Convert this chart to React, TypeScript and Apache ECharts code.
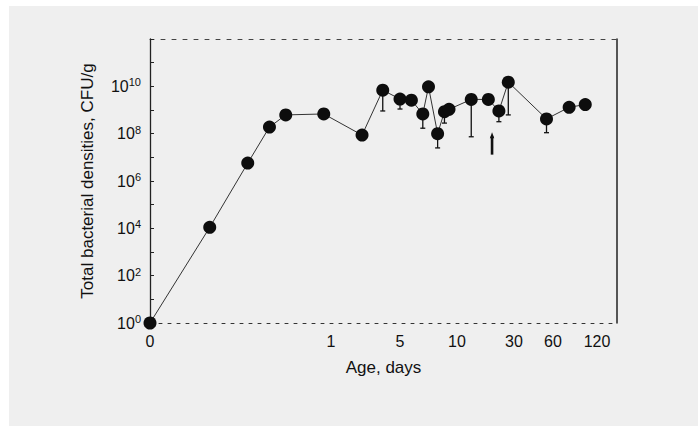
import React, { useEffect, useRef } from 'react';
import * as echarts from 'echarts';

// Broken age axis of the original figure: anchor ages and their axis units
const ageTicks = [0, 1, 5, 10, 30, 60, 120];
const ageTickUnits = [0, 181, 250, 307, 364, 403, 447];
const ageAxisMax = 467;

// Observations
const ageDays = [0, 0.33, 0.54, 0.66, 0.75, 0.96, 2.8, 4.0, 5, 6, 7, 7.5, 8.3, 8.9, 9.3, 15, 21, 24.7, 28, 55, 82, 104];
const density = [1, 1.1e4, 5.7e6, 1.9e8, 6.2e8, 6.8e8, 8.7e7, 6.9e9, 2.9e9, 2.6e9, 6.8e8, 9.5e9, 1.0e8, 8.5e8, 1.07e9, 2.8e9, 2.8e9, 9.1e8, 1.5e10, 4.2e8, 1.3e9, 1.7e9];

// Lower error bars
const errAge = [4.0, 5, 7, 8.3, 8.9, 15, 24.7, 28, 55];
const errLow = [9.1e8, 1.1e9, 1.7e8, 2.5e7, 2.8e8, 7.4e7, 3.2e8, 6.2e8, 1.1e8];

// Arrow marker
const arrowAge = [22.3];
const arrowFrom = [1.3e7];
const arrowTo = [1.15e8];

const yLabelExponents = [0, 2, 4, 6, 8, 10];

function ageToUnit(age: number): number {
  for (let i = 0; i < ageTicks.length - 1; i++) {
    if (age <= ageTicks[i + 1]) {
      const t = (age - ageTicks[i]) / (ageTicks[i + 1] - ageTicks[i]);
      return ageTickUnits[i] + t * (ageTickUnits[i + 1] - ageTickUnits[i]);
    }
  }
  const n = ageTicks.length - 1;
  const slope = (ageTickUnits[n] - ageTickUnits[n - 1]) / (ageTicks[n] - ageTicks[n - 1]);
  return ageTickUnits[n] + (age - ageTicks[n]) * slope;
}

const FONT = 'Liberation Sans, Arial, sans-serif';

export default function App() {
  const ref = useRef<HTMLDivElement>(null);
  useEffect(() => {
    if (!ref.current) return;
    const chart = echarts.init(ref.current, null, { renderer: 'svg' });

    const lineData = ageDays.map((a, i) => [ageToUnit(a), density[i]]);
    const errData = errAge.map((a, i) => [ageToUnit(a), errLow[i], density[ageDays.indexOf(a)]]);
    const arrowData = arrowAge.map((a, i) => [ageToUnit(a), arrowFrom[i], arrowTo[i]]);

    const option: any = {
      animation: false,
      backgroundColor: '#ffffff',
      graphic: [
        { type: 'rect', z: -10, shape: { x: 9, y: 6, width: 700, height: 430 }, style: { fill: '#efefef' }, silent: true },
      ],
      grid: { left: 150, top: 39, right: 81, bottom: 103 },
      xAxis: [
        {
          type: 'value',
          min: 0,
          max: ageAxisMax,
          position: 'bottom',
          name: 'Age, days',
          nameLocation: 'middle',
          nameGap: 36,
          nameTextStyle: { fontFamily: FONT, fontSize: 17, color: '#111' },
          axisLine: { show: true, onZero: false, lineStyle: { color: '#333', width: 1, type: [3, 6] } },
          axisTick: { show: false },
          splitLine: { show: false },
          axisLabel: {
            customValues: ageTickUnits,
            formatter: (v: number) => {
              const idx = ageTickUnits.findIndex((u) => Math.abs(u - v) < 0.5);
              return idx >= 0 ? String(ageTicks[idx]) : '';
            },
            fontFamily: FONT,
            fontSize: 16,
            color: '#111',
            margin: 10,
          },
        },
        {
          type: 'value',
          min: 0,
          max: ageAxisMax,
          position: 'top',
          axisLine: { show: true, onZero: false, lineStyle: { color: '#444', width: 1, type: [4, 7] } },
          axisTick: { show: false },
          axisLabel: { show: false },
          splitLine: { show: false },
        },
      ],
      yAxis: [
        {
          type: 'log',
          logBase: 10,
          min: 1,
          max: 1e12,
          interval: 1,
          position: 'left',
          name: 'Total bacterial densities, CFU/g',
          nameLocation: 'middle',
          nameGap: 54,
          nameRotate: 90,
          nameTextStyle: { fontFamily: FONT, fontSize: 17, color: '#111' },
          axisLine: { show: true, onZero: false, lineStyle: { color: '#222', width: 1.3 } },
          axisTick: { show: true, inside: true, length: 4, lineStyle: { color: '#222' } },
          splitLine: { show: false },
          axisLabel: {
            margin: 9,
            formatter: (v: number) => {
              const e = Math.round(Math.log10(v));
              if (!yLabelExponents.includes(e)) return '';
              return `{b|10}{s|${e}}`;
            },
            rich: {
              b: { fontFamily: FONT, fontSize: 16, color: '#111' },
              s: { fontFamily: FONT, fontSize: 11, color: '#111', padding: [0, 0, 8, 0] },
            },
          },
        },
        {
          type: 'log',
          logBase: 10,
          min: 1,
          max: 1e12,
          position: 'right',
          axisLine: { show: true, onZero: false, lineStyle: { color: '#222', width: 1.5 } },
          axisTick: { show: false },
          axisLabel: { show: false },
          splitLine: { show: false },
        },
      ],
      series: [
        {
          type: 'line',
          data: lineData,
          symbol: 'circle',
          symbolSize: 13,
          itemStyle: { color: '#0d0d0d' },
          lineStyle: { color: '#333', width: 1 },
          z: 3,
        },
        {
          type: 'custom',
          data: errData,
          z: 2,
          renderItem: (params: any, api: any) => {
            const x = api.value(0);
            const lo = api.coord([x, api.value(1)]);
            const hi = api.coord([x, api.value(2)]);
            return {
              type: 'group',
              children: [
                { type: 'line', shape: { x1: lo[0], y1: lo[1], x2: hi[0], y2: hi[1] }, style: { stroke: '#111', lineWidth: 1.3 } },
                { type: 'line', shape: { x1: lo[0] - 2.5, y1: lo[1], x2: lo[0] + 2.5, y2: lo[1] }, style: { stroke: '#111', lineWidth: 1.3 } },
              ],
            };
          },
        },
        {
          type: 'custom',
          data: arrowData,
          z: 2,
          renderItem: (params: any, api: any) => {
            const x = api.value(0);
            const lo = api.coord([x, api.value(1)]);
            const hi = api.coord([x, api.value(2)]);
            return {
              type: 'group',
              children: [
                { type: 'line', shape: { x1: lo[0], y1: lo[1], x2: hi[0], y2: hi[1] + 4 }, style: { stroke: '#111', lineWidth: 2.6 } },
                {
                  type: 'polygon',
                  shape: { points: [[hi[0], hi[1]], [hi[0] - 2.2, hi[1] + 6], [hi[0] + 2.2, hi[1] + 6]] },
                  style: { fill: '#111' },
                },
              ],
            };
          },
        },
      ],
    };
    chart.setOption(option);
    return () => chart.dispose();
  }, []);
  return (
    <div
      ref={ref}
      style={{ position: 'fixed', left: 0, top: 0, width: 698, height: 426 }}
    />
  );
}
